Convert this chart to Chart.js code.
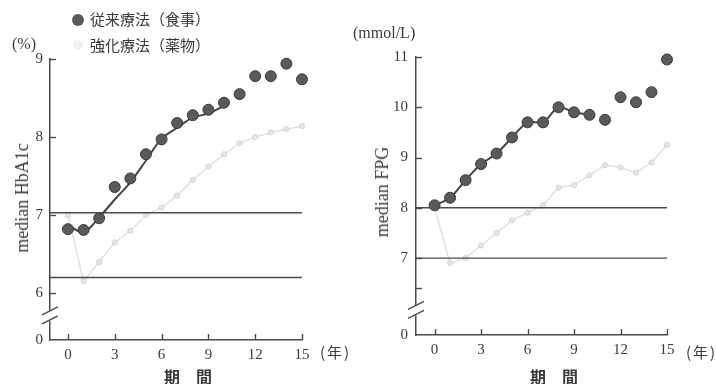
<!DOCTYPE html>
<html><head><meta charset="utf-8">
<script src="https://cdn.jsdelivr.net/npm/chart.js@4/dist/chart.umd.min.js"></script>
<style>
html,body{margin:0;padding:0;background:#fff;}
#wrap{position:relative;width:716px;height:384px;overflow:hidden;background:#fff;}
canvas{position:absolute;top:0;}
.t{position:absolute;color:#3a3a3a;white-space:nowrap;line-height:1;}
.serif{font-family:"Liberation Serif","DejaVu Serif",serif;}
.cjk{font-family:"Noto Sans CJK JP","Noto Sans CJK SC",sans-serif;}
.rot{transform:translate(-50%,-50%) rotate(-90deg);}
.dot{position:absolute;border-radius:50%;}
</style></head><body>
<div id="wrap">
<canvas id="c1" width="358" height="384" style="left:0"></canvas>
<canvas id="c2" width="358" height="384" style="left:358px"></canvas>

<div class="dot" style="left:72px;top:14px;width:12px;height:12px;background:#5a5a5a;"></div>
<div class="t cjk" style="left:90px;top:11px;font-size:15px;">従来療法（食事）</div>
<div class="dot" style="left:73px;top:40px;width:10px;height:10px;background:#f0f0f0;"></div>
<div class="t cjk" style="left:90px;top:37px;font-size:15px;">強化療法（薬物）</div>

<div class="t serif" style="left:12px;top:36px;font-size:16px;">(%)</div>
<div class="t serif" style="left:353px;top:25px;font-size:16px;">(mmol/L)</div>

<div class="t serif rot" style="left:22px;top:198px;font-size:18px;">median HbA1c</div>
<div class="t serif rot" style="left:382px;top:192px;font-size:18px;">median FPG</div>

<div class="t cjk" style="left:320px;top:344px;font-size:15px;letter-spacing:2px;">(年)</div>
<div class="t cjk" style="left:686px;top:344px;font-size:15px;letter-spacing:2px;">(年)</div>

<div class="t cjk" style="left:188px;top:376px;font-size:16px;font-weight:bold;transform:translate(-50%,-50%);">期　間</div>
<div class="t cjk" style="left:554px;top:376px;font-size:16px;font-weight:bold;transform:translate(-50%,-50%);">期　間</div>
</div>

<script>
// ---- data ----
const years = [0,1,2,3,4,5,6,7,8,9,10,11,12,13,14,15];
const trendYears = [0,1,2,3,4,5,6,7,8,9,10];
const xTicks = [0,3,6,9,12,15];

const hba1cConventional = [6.82,6.81,6.96,7.36,7.47,7.78,7.97,8.18,8.28,8.35,8.44,8.55,8.78,8.78,8.94,8.74];
const hba1cConventionalTrend = [6.87,6.78,6.97,7.2,7.42,7.7,7.98,8.12,8.25,8.3,8.4];
const hba1cIntensive = [7.0,6.15,6.4,6.65,6.8,7.0,7.1,7.25,7.45,7.62,7.78,7.92,8.0,8.06,8.1,8.14];
const hba1cTicks = [6,7,8,9];
const hba1cRefLines = [7.03,6.2];

const fpgConventional = [8.05,8.2,8.55,8.87,9.08,9.4,9.7,9.7,10.0,9.9,9.85,9.75,10.2,10.1,10.3,10.95];
const fpgConventionalTrend = [8.05,8.2,8.55,8.87,9.08,9.4,9.7,9.7,10.0,9.9,9.85];
const fpgIntensive = [8.0,6.9,7.0,7.25,7.5,7.75,7.9,8.05,8.4,8.45,8.65,8.85,8.8,8.7,8.9,9.25];
const fpgTicks = [7,8,9,10,11];
const fpgMinorTicks = [6.4];
const fpgRefLines = [8,7];

const zeroLabel = '0';

// ---- helpers ----
const pts = (xs, ys) => ys.map((v,i)=>({x:xs[i], y:v}));
const AX = '#4a4a4a';
const serifFont = {family:'"Liberation Serif","DejaVu Serif",serif', size:15};

const axisDeco = {
  id:'axisDeco',
  afterDraw(chart, args, opts){
    const ctx = chart.ctx, xs = chart.scales.x, ys = chart.scales.y, a = chart.chartArea;
    ctx.save();
    ctx.strokeStyle = AX; ctx.lineWidth = 1.4;
    ys.ticks.forEach(t=>{
      if (t.value <= ys.min + 1e-6) return;
      const py = Math.round(ys.getPixelForValue(t.value))+0.5;
      ctx.beginPath(); ctx.moveTo(a.left, py); ctx.lineTo(a.left+6, py); ctx.stroke();
    });
    xs.ticks.forEach(t=>{
      const px = Math.round(xs.getPixelForValue(t.value))+0.5;
      ctx.beginPath(); ctx.moveTo(px, a.bottom); ctx.lineTo(px, a.bottom-6); ctx.stroke();
    });
    const by = ys.getPixelForValue(opts.breakAt);
    ctx.fillStyle = '#fff';
    ctx.fillRect(a.left-3, by-5, 6, 10);
    ctx.beginPath();
    ctx.moveTo(a.left-8, by-1); ctx.lineTo(a.left+8, by-9);
    ctx.moveTo(a.left-8, by+8); ctx.lineTo(a.left+8, by);
    ctx.stroke();
    ctx.restore();
  }
};

function makeChart(id, cfg){
  const refSets = cfg.refLines.map(v=>({
    data:[{x:cfg.xMin,y:v},{x:15,y:v}], borderColor:'#4a4a4a', borderWidth:1.4,
    pointRadius:0, order:2
  }));
  return new Chart(document.getElementById(id), {
    type:'line',
    data:{datasets:[
      {data:pts(years,cfg.conv), showLine:false, pointRadius:5.5, pointBackgroundColor:'#5a5a5a',
       pointBorderColor:'#3a3a3a', pointBorderWidth:1, order:0, clip:false},
      {data:pts(trendYears,cfg.trend), borderColor:'#444', borderWidth:2, pointRadius:0,
       tension:0.3, order:1},
      ...refSets,
      {data:pts(years,cfg.int), borderColor:'#dedede', borderWidth:1.4, pointRadius:2.6,
       pointBackgroundColor:'#e6e6e6', pointBorderColor:'#d4d4d4', pointBorderWidth:1, order:3, clip:false}
    ]},
    options:{
      responsive:false, animation:false, events:[], devicePixelRatio:1,
      layout:{padding:cfg.padding},
      plugins:{legend:{display:false}, tooltip:{enabled:false}, axisDeco:{breakAt:cfg.breakAt}},
      scales:{
        x:{type:'linear', min:cfg.xMin, max:15,
           afterBuildTicks:s=>{ s.ticks = xTicks.map(v=>({value:v})); },
           afterFit:s=>{ s.height = cfg.xHeight; },
           grid:{display:true, drawOnChartArea:false, drawTicks:false},
           border:{display:true, color:AX, width:1.5},
           ticks:{padding:6, font:serifFont, color:'#3a3a3a', maxRotation:0, autoSkip:false}},
        y:{type:'linear', min:cfg.yMin, max:cfg.yMax,
           afterBuildTicks:s=>{ s.ticks = [cfg.yMin, ...cfg.minor, ...cfg.ticks].map(v=>({value:v})); },
           afterFit:s=>{ s.width = cfg.yWidth; },
           grid:{display:true, drawOnChartArea:false, drawTicks:false},
           border:{display:true, color:AX, width:1.5},
           ticks:{padding:cfg.yPad, font:serifFont, color:'#3a3a3a', autoSkip:false,
             callback:(v)=> v <= cfg.yMin + 1e-6 ? zeroLabel : (cfg.ticks.includes(v) ? String(v) : '')}}
      }
    },
    plugins:[axisDeco]
  });
}

makeChart('c1', {conv:hba1cConventional, trend:hba1cConventionalTrend, int:hba1cIntensive,
  refLines:hba1cRefLines, ticks:hba1cTicks, minor:[], xMin:-1.15, yMin:5.4, yMax:9,
  padding:{left:0, top:59, right:56, bottom:0}, xHeight:44, yWidth:50, yPad:7, breakAt:5.71});

makeChart('c2', {conv:fpgConventional, trend:fpgConventionalTrend, int:fpgIntensive,
  refLines:fpgRefLines, ticks:fpgTicks, minor:fpgMinorTicks, xMin:-1.2, yMin:5.47, yMax:11,
  padding:{left:0, top:57, right:49, bottom:0}, xHeight:49, yWidth:58, yPad:8, breakAt:5.96});
</script>
</body></html>
